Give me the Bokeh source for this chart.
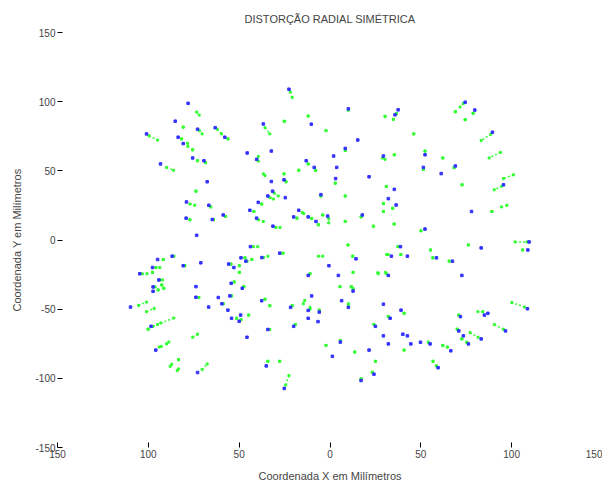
from bokeh.plotting import figure
from bokeh.models import FixedTicker, Range1d, ColumnDataSource
from bokeh.embed import file_html
from bokeh.resources import INLINE

title_text = "DISTORÇÃO RADIAL SIMÉTRICA"
x_label = "Coordenada X em Milímetros"
y_label = "Coordenada Y em Milímetros"

tick_values = [-150, -100, -50, 0, 50, 100, 150]
x_tick_labels = ["150", "100", "50", "0", "50", "100", "150"]
y_tick_labels = ["-150", "-100", "-50", "0", "50", "100", "150"]

# observed image points (blue)
blue_x = [-78.1, -85.2, -101, -72.9, -63.2, -57.9, -83.6, -80.8, -45.6, -75.6, -69.4, -93.3, -67.6,
          -22.6, 10.1, 37.5, 35.8, -36.7, -10.3, 15.3, 8.4, -32.3, -40.4, 2.0, 29.4, -13.1, -8.7, 3.7,
          -25.3, -32.3, 21.5, 3.1, 35.4, -31.6, -34.2, -24.6, -5.0, 32.1,
          74.4, 79.7, 89.4, 52.3, 51.4, 69.0, 61.2, 95.5,
          -79.0, -66.7, -58.8, -79.2, -64.8, -44.1, -73.4, -43.8, -86.9, -94.9, -49.0, -46.3, -80.8,
          -71.1, -55.8, -97.7, -52.9, -104.7, -94.2, -97.4, -97.4, -54.4, -48.3, -73.8, -55.1, -73.8, -61.5,
          -39.5, 36.4, -17.2, -20.0, -12.0, -1.3, 17.8, -7.7, -40.4, -31.4, -27.7, -37.5, 14.3, 33.8,
          38.8, -0.6, 4.6, -12.0, 32.1, 12.7, -10.1,
          77.9, 52.3, 109.6, 108.9, 83.2, 42.6, 58.6, 67.4, 72.6,
          -109.8, -66.8, -59.5, -56.2, -49.2, -54.2, -50.0, -98.5, -45.7, -95.9, -72.9,
          -37.6, -21.7, -12.0, -5.9, 6.4, 10.1, 29.4, 33.1, -12.0, -6.6, -20.0, 25.0, -34.2, 29.4,
          5.7, 32.1, 21.5, 1.3, -35.1, 24.2, 17.1, -25.2,
          39.1, 108.7, 85.0, 86.9, 71.8, 96.6, 70.9, 40.1, 42.6, 73.4, 83.2, 44.5, 49.8, 55.1, 76.2,
          66.5, 59.5]
blue_y = [98.8, 85.9, 76.7, 80.1, 81.2, 74.3, 74.3, 69.7, 62.9, 59.3, 57.3, 55.0, 42.1,
          109.0, 94.8, 94.1, 90.5, 83.9, 83.7, 72.3, 66.2, 64.3, 58.3, 60.7, 60.7, 57.3, 52.5, 52.5,
          43.5, 42.3, 45.7, 44.4, 36.6, 35.3, 31.8, 30.6, 32.8, 29.9,
          99.6, 93.9, 77.9, 61.6, 52.5, 53.5, 48.0, 39.9,
          27.5, 25.1, 18.1, 15.8, 14.8, 21.5, 3.4, -4.8, -11.7, -14.1, -12.9, -15.3, -18.6,
          -16.5, -17.4, -19.9, -19.9, -24.4, -28.9, -33.9, -37.1, -31.3, -34.9, -33.7, -40.4, -41.4, -41.6,
          27.2, 25.3, 21.5, 16.7, 16.7, 17.3, 18.1, 13.4, 15.8, 10.0, -9.5, -12.7, -13.6, -11.7,
          -4.8, -18.6, -25.6, -25.6, -25.6, -36.9, -40.4,
          20.6, 7.9, -1.4, -7.2, -5.7, -11.7, -12.9, -15.3, -25.6,
          -48.5, -48.5, -46.1, -50.7, -54.3, -56.6, -58.8, -62.4, -70.3, -79.6, -95.8,
          -43.9, -48.7, -50.9, -52.1, -43.9, -48.7, -46.4, -56.6, -56.6, -59.0, -62.4, -62.4, -64.7, -69.3,
          -73.8, -75.1, -79.6, -84.1, -91.0, -97.0, -101.6, -107.3,
          -50.7, -49.7, -54.3, -53.0, -55.4, -65.7, -65.7, -68.1, -69.3, -69.3, -71.5, -75.1, -73.9, -75.1, -75.1,
          -80.1, -92.3]

# corrected positions / distortion traces (green): start and end of each trace
green_x0 = [-73.4, -80.8, -99.6, -72.0, -62.1, -56.2, -81.7, -78.4, -75.6, -72.9, -68.5, -90.0, -73.8,
            -21.9, 10.1, 36.5, 34.9, 30.3, -35.8, -12.0, -25.2, -2.2, 8.4, -39.5, 28.8, 35.4, -12.0,
            -7.9, -17.2, -36.7, -25.3, -24.2, 2.9, 31.0, -30.7, -33.1, -5.0, 8.4,
            73.4, 78.8, 69.0, 74.4, 46.1, 88.5, 52.3, 62.1, 93.8, 51.4, 68.3, 72.7, 101.0, 94.6,
            -77.1, -65.7, -57.5, -77.1, -64.1, -41.9, -42.3, -86.0, -91.8, -46.8, -45.7, -79.9, -54.5,
            -95.9, -49.9, -49.9, -103.4, -97.7, -93.3, -92.6, -96.4, -91.5, -94.6, -52.7, -47.4, -54.2, -72.2,
            -37.6, 34.5, 29.4, 29.4, -15.3, -18.2, -10.1, -0.7, -4.0, 17.1, -6.4, 8.4, -39.5, -29.9,
            23.9, 35.3, -26.8, 9.9, -36.7, -43.0, -6.4, 12.5, 31.2, 37.3, -11.0, 12.7, 26.3, 30.5,
            5.5, 11.7, 12.7,
            97.4, 89.1, 50.1, 101.9, 106.0, 76.2, 55.3, 39.0, 56.6, 65.6,
            -105.4, -58.8, -101.0, -44.8, -51.4, -49.0, -86.0, -97.5, -100.1, -75.6, -94.0, -90.0,
            -83.4, -88.0, -84.1, -70.4,
            -35.8, -33.1, -13.9, -20.8, -11.0, -5.9, 10.1, 32.1, -19.1, 24.2, -33.2, 5.7, -2.2,
            13.6, -34.2, -27.7, 25.0, 23.3, 17.1, -24.4,
            40.8, 107.1, 84.1, 70.9, 95.5, 70.0, 72.6, 77.1, 54.2, 75.3, 62.1, 64.6, 40.8, 56.7, 58.6]
green_y0 = [92.5, 81.6, 75.3, 79.1, 80.1, 73.1, 73.1, 70.0, 65.2, 57.3, 55.9, 52.5, 35.3,
            107.0, 93.9, 91.5, 87.2, 89.4, 81.2, 89.6, 85.8, 79.1, 64.7, 60.4, 59.3, 61.6, 55.0,
            50.4, 50.4, 47.8, 47.8, 42.1, 41.1, 38.7, 33.9, 30.6, 31.8, 31.8,
            98.7, 91.5, 92.7, 87.0, 76.7, 76.5, 64.3, 59.3, 63.3, 51.1, 52.3, 39.9, 47.1, 38.9,
            26.0, 23.9, 17.0, 14.6, 14.8, 20.6, -4.8, -11.7, -14.1, -12.9, -15.3, -18.6, -17.4,
            -19.9, -18.6, -23.4, -24.4, -23.4, -28.9, -32.5, -33.9, -34.9, -36.1, -30.3, -33.7, -40.4, -41.6,
            26.0, 22.9, 26.3, 20.6, 19.9, 15.8, 15.6, 15.6, 18.1, 16.7, 11.0, 13.4, 14.6, 9.1,
            10.0, 11.5, -9.5, -3.6, -12.7, -14.1, -11.7, -11.7, -10.5, -4.8, -24.4, -23.4, -23.7, -23.4,
            -33.7, -33.7, -35.1,
            25.1, 20.6, 6.7, -1.4, -7.2, -3.6, -7.2, -10.5, -12.9, -15.3,
            -47.3, -46.1, -51.8, -54.3, -56.6, -57.6, -56.4, -62.4, -64.5, -70.3, -77.4, -75.1,
            -86.5, -91.3, -94.4, -93.7,
            -42.8, -47.5, -43.7, -47.5, -48.7, -50.7, -46.1, -55.4, -61.1, -61.1, -64.7, -72.6, -76.2,
            -81.0, -87.7, -87.7, -87.7, -95.6, -100.4, -104.9,
            -53.0, -48.5, -51.8, -54.3, -64.5, -64.5, -71.5, -66.9, -73.9, -73.9, -76.2, -77.4, -79.6, -87.7, -91.0]
green_x1 = [-72.0, -80.8, -94.9, -70.4, -59.7, -56.2, -81.7, -78.2, -75.6, -72.9, -68.5, -86.1, -73.8,
            -20.8, 10.1, 36.5, 34.9, 30.3, -33.1, -12.0, -25.2, -2.2, 8.4, -39.5, 30.3, 35.4, -12.0,
            -7.9, -17.2, -35.8, -25.3, -24.2, 2.9, 31.0, -28.5, -31.2, -5.0, 8.4,
            71.6, 78.8, 69.0, 74.4, 46.1, 83.2, 52.3, 62.1, 87.6, 51.4, 68.3, 72.7, 95.5, 90.4,
            -74.5, -65.7, -57.5, -77.1, -64.1, -41.9, -39.8, -86.0, -91.8, -46.8, -45.7, -79.9, -54.5,
            -93.7, -49.9, -49.9, -100.7, -97.7, -92.2, -92.6, -96.4, -91.5, -94.6, -52.7, -47.4, -54.2, -72.2,
            -37.6, 34.5, 29.4, 29.4, -14.5, -18.2, -10.1, -0.7, -4.0, 17.1, -6.4, 8.4, -36.7, -27.5,
            23.9, 35.3, -25.7, 9.9, -34.2, -43.0, -4.0, 12.5, 32.0, 38.3, -11.0, 12.7, 26.6, 31.0,
            5.5, 11.7, 12.7,
            94.4, 89.1, 50.1, 108.5, 106.0, 76.2, 55.3, 39.0, 56.6, 65.6,
            -101.0, -58.8, -96.8, -44.8, -51.4, -49.0, -93.1, -94.9, -100.1, -72.9, -92.9, -88.7,
            -83.4, -87.1, -83.4, -67.6,
            -35.8, -33.1, -14.7, -20.8, -11.0, -5.9, 10.1, 32.1, -19.1, 24.2, -33.2, 5.7, -2.2,
            13.6, -34.2, -27.7, 25.0, 23.3, 17.1, -22.6,
            40.8, 100.1, 81.4, 70.9, 90.4, 70.0, 72.6, 81.5, 54.2, 75.3, 62.1, 64.6, 40.8, 56.7, 58.6]
green_y1 = [90.3, 81.6, 72.2, 76.7, 76.7, 73.1, 73.1, 67.6, 65.2, 57.3, 55.9, 50.4, 35.3,
            103.0, 93.9, 91.5, 87.2, 89.4, 76.7, 89.6, 85.8, 79.1, 64.7, 57.1, 58.3, 61.6, 55.0,
            50.4, 50.4, 46.6, 47.8, 42.1, 41.1, 38.7, 31.8, 29.6, 31.8, 31.8,
            96.1, 91.5, 92.7, 87.0, 76.7, 71.9, 64.3, 59.3, 59.3, 51.1, 52.3, 39.9, 44.4, 36.3,
            25.1, 23.9, 17.0, 14.6, 14.8, 20.6, -4.8, -11.7, -14.1, -12.9, -15.3, -18.6, -17.4,
            -19.9, -18.6, -23.4, -24.4, -23.4, -28.9, -32.5, -33.9, -34.9, -36.1, -30.3, -33.7, -40.4, -41.6,
            26.0, 22.9, 26.3, 20.6, 19.1, 15.8, 15.6, 12.4, 18.1, 16.7, 11.0, 13.4, 13.4, 9.1,
            10.0, 11.5, -9.5, -3.6, -11.7, -14.1, -11.7, -11.7, -10.5, -4.8, -24.4, -23.4, -24.4, -24.4,
            -33.7, -33.7, -35.1,
            23.9, 20.6, 6.7, -1.4, -7.2, -3.6, -7.2, -10.5, -12.9, -15.3,
            -44.9, -46.1, -49.5, -54.3, -56.6, -57.6, -60.0, -61.1, -64.5, -68.1, -76.9, -73.8,
            -86.5, -89.8, -93.2, -89.6,
            -42.8, -47.5, -46.1, -47.5, -50.0, -50.7, -47.5, -55.4, -61.1, -61.1, -64.7, -72.6, -76.2,
            -81.0, -87.7, -87.7, -87.7, -95.6, -100.4, -98.0,
            -53.0, -45.2, -51.8, -54.3, -61.1, -64.5, -71.5, -70.3, -73.9, -73.9, -76.2, -77.4, -79.6, -87.7, -91.0]

n = min(len(green_x0), len(green_y0), len(green_x1), len(green_y1))
gsrc = ColumnDataSource(dict(x0=green_x0[:n], y0=green_y0[:n], x1=green_x1[:n], y1=green_y1[:n]))
m = min(len(blue_x), len(blue_y))
bsrc = ColumnDataSource(dict(x=blue_x[:m], y=blue_y[:m]))

p = figure(width=602, height=484, output_backend="svg", toolbar_location=None,
           x_range=Range1d(-150, 150), y_range=Range1d(-150, 150),
           min_border_left=57, min_border_right=0, min_border_top=32, min_border_bottom=34)
p.title.text = title_text
p.title.align = "center"
p.title.text_font = "Liberation Sans"
p.title.text_font_size = "11px"
p.title.text_font_style = "normal"
p.title.standoff = 16
p.outline_line_color = None
p.xgrid.visible = False
p.ygrid.visible = False
p.background_fill_color = "white"
p.border_fill_color = "white"

p.segment(x0="x0", y0="y0", x1="x1", y1="y1", source=gsrc, line_color="#33ff33", line_width=1.5,
          line_dash="2 2")
p.scatter(x="x0", y="y0", source=gsrc, marker="square", size=2, color="#33ff33")
p.scatter(x="x1", y="y1", source=gsrc, marker="square", size=2, color="#33ff33")
p.scatter(x="x", y="y", source=bsrc, marker="square", size=2.5, color="#3333ff")

for ax, labels, lab in ((p.xaxis[0], x_tick_labels, x_label), (p.yaxis[0], y_tick_labels, y_label)):
    ax.ticker = FixedTicker(ticks=tick_values)
    ax.major_label_overrides = {t: l for t, l in zip(tick_values, labels)}
    ax.axis_line_color = None
    ax.major_tick_in = 5
    ax.major_tick_out = 0
    ax.minor_tick_line_color = None
    ax.major_tick_line_color = "black"
    ax.major_label_standoff = 2
    ax.major_label_text_font = "Liberation Sans"
    ax.major_label_text_font_size = "10px"
    ax.axis_label = lab
    ax.axis_label_text_font = "Liberation Sans"
    ax.axis_label_text_font_size = "11px"
    ax.axis_label_text_font_style = "normal"
    ax.axis_label_standoff = 9

p.yaxis[0].major_label_orientation = "horizontal"

open("out.html", "w").write(file_html(p, INLINE))
